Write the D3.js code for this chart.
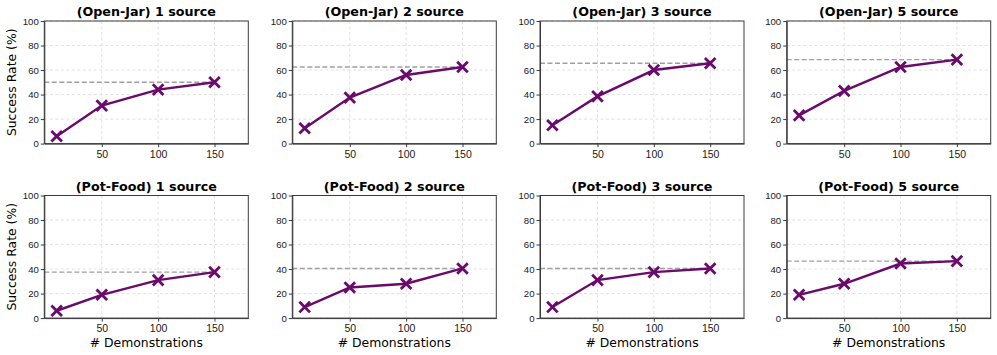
<!DOCTYPE html>
<html>
<head>
<meta charset="utf-8">
<script src="https://d3js.org/d3.v7.min.js"></script>
<style>
  body { margin: 0; background: #fff; }
  svg { font-family: "DejaVu Sans", sans-serif; }
  .grid line { stroke: #d9d9d9; stroke-width: 0.8; stroke-dasharray: 3,2.5; }
  .axis path, .axis line { stroke: #3a3a3a; }
  .axis text { fill: #1a1a1a; }
</style>
</head>
<body>
<svg width="997" height="355"></svg>
<script>
// demonstrations on x
var demos = [10, 50, 100, 150];
var xTicks = [50, 100, 150];
var yTicks = [0, 20, 40, 60, 80, 100];

var tasks = ["Open-Jar", "Pot-Food"];
var sources = [1, 2, 3, 5];

// success rates (%) per task, one row per source count
var openJar = [
  [6, 31, 44, 50],
  [12.5, 37.5, 56, 62.5],
  [15, 38.5, 60, 65.5],
  [23, 43, 62.5, 68.5]
];
var potFood = [
  [6, 19, 31, 37.5],
  [9, 25, 28, 40.5],
  [9, 31, 37.5, 40.5],
  [19, 28, 44.5, 46.5]
];
var rates = [openJar, potFood];

var svg = d3.select("svg");

var lefts = [44.3, 292.3, 540, 786.7],
    tops = [21, 195.5],
    w = 204,
    h = 122.6;

var lineColor = "#6a0a6b";

tasks.forEach(function(task, r) {
  sources.forEach(function(src, c) {
    var vals = rates[r][c];
    var g = svg.append("g")
        .attr("transform", "translate(" + lefts[c] + "," + tops[r] + ")");

    var x = d3.scaleLinear().domain([-1, 180]).range([0, w]);
    var y = d3.scaleLinear().domain([0, 100]).range([h, 0]);

    // grid
    var grid = g.append("g").attr("class", "grid");
    grid.selectAll(".gx").data(xTicks).enter().append("line")
        .attr("x1", function(d) { return x(d); })
        .attr("x2", function(d) { return x(d); })
        .attr("y1", 0).attr("y2", h);
    grid.selectAll(".gy").data(yTicks).enter().append("line")
        .attr("x1", 0).attr("x2", w)
        .attr("y1", function(d) { return y(d); })
        .attr("y2", function(d) { return y(d); });

    // best-value reference line
    var best = d3.max(vals);
    g.append("line")
        .attr("x1", x(-1)).attr("x2", x(150))
        .attr("y1", y(best)).attr("y2", y(best))
        .attr("stroke", "#a0a0a0")
        .attr("stroke-width", 1.4)
        .attr("stroke-dasharray", "5,2.5");

    var line = d3.line()
        .x(function(d, i) { return x(demos[i]); })
        .y(function(d) { return y(d); });

    g.append("path")
        .datum(vals)
        .attr("fill", "none")
        .attr("stroke", lineColor)
        .attr("stroke-width", 2.4)
        .attr("d", line);

    var s = 5.3;
    g.selectAll(".mk").data(vals).enter().append("path")
        .attr("transform", function(d, i) { return "translate(" + x(demos[i]) + "," + y(d) + ")"; })
        .attr("d", "M" + (-s) + "," + (-s) + "L" + s + "," + s + "M" + (-s) + "," + s + "L" + s + "," + (-s))
        .attr("stroke", lineColor)
        .attr("stroke-width", 2.8)
        .attr("fill", "none");

    // axes
    var xa = g.append("g").attr("class", "axis")
        .attr("transform", "translate(0," + h + ")")
        .call(d3.axisBottom(x).tickValues(xTicks).tickSize(3.5).tickPadding(3).tickSizeOuter(0));
    xa.selectAll("text").style("font-size", "10.5px");

    var ya = g.append("g").attr("class", "axis")
        .call(d3.axisLeft(y).tickValues(yTicks).tickSize(3.5).tickPadding(2).tickSizeOuter(0));
    ya.selectAll("text").style("font-size", "9.6px");

    // frame
    g.append("rect")
        .attr("width", w).attr("height", h)
        .attr("fill", "none")
        .attr("stroke", "#3a3a3a")
        .attr("stroke-width", 1);

    g.append("text")
        .attr("x", w / 2)
        .attr("y", -5)
        .attr("text-anchor", "middle")
        .style("font-size", "12.7px")
        .style("font-weight", "bold")
        .text("(" + task + ") " + src + " source");

    if (c === 0) {
      g.append("text")
        .attr("transform", "translate(" + (-28) + "," + (h / 2) + ") rotate(-90)")
        .attr("text-anchor", "middle")
        .style("font-size", "12.4px")
        .text("Success Rate (%)");
    }
    if (r === 1) {
      g.append("text")
        .attr("x", w / 2)
        .attr("y", h + 29)
        .attr("text-anchor", "middle")
        .style("font-size", "12.4px")
        .text("# Demonstrations");
    }
  });
});
</script>
</body>
</html>
